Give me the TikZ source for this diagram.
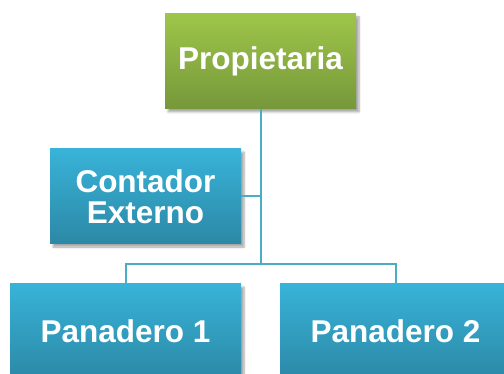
\documentclass[tikz,border=0pt]{standalone}
\usepackage{fontspec}
\setmainfont{Liberation Sans}
\usetikzlibrary{shadows.blur}
\definecolor{gtop}{HTML}{9EC54A}
\definecolor{gbot}{HTML}{76983A}
\definecolor{btop}{HTML}{38B3D8}
\definecolor{bbot}{HTML}{2C88A6}
\definecolor{conn}{HTML}{4BACC6}
\begin{document}
\begin{tikzpicture}[x=1pt,y=-1pt,
 box/.style={minimum width=191pt, minimum height=95pt, inner sep=0pt, text=white,
   font=\bfseries\fontsize{31.5}{31}\selectfont, align=center,
   blur shadow={shadow xshift=3pt, shadow yshift=-3pt, shadow blur steps=6, shadow opacity=35}},
 gbox/.style={box, top color=gtop, bottom color=gbot},
 bbox/.style={box, top color=btop, bottom color=bbot},
 link/.style={draw=conn, line width=2pt}]
\useasboundingbox (0,0) rectangle (504,374);
\coordinate (hub) at (260.5,264);
\node[gbox] (prop) at (260.5,61.5) {Propietaria};
\node[bbox] (cont) at (145.5,196.5) {Contador\\Externo};
\node[bbox, minimum width=231pt] (p1) at (125.5,331.5) {Panadero 1};
\node[bbox, minimum width=231pt] (p2) at (395.5,331.5) {Panadero 2};
\draw[link] (prop.south) -- (hub);
\draw[link] (cont.east) -- (cont.east -| hub);
\draw[link] (p1.north) |- (hub) -| (p2.north);
\end{tikzpicture}
\end{document}
